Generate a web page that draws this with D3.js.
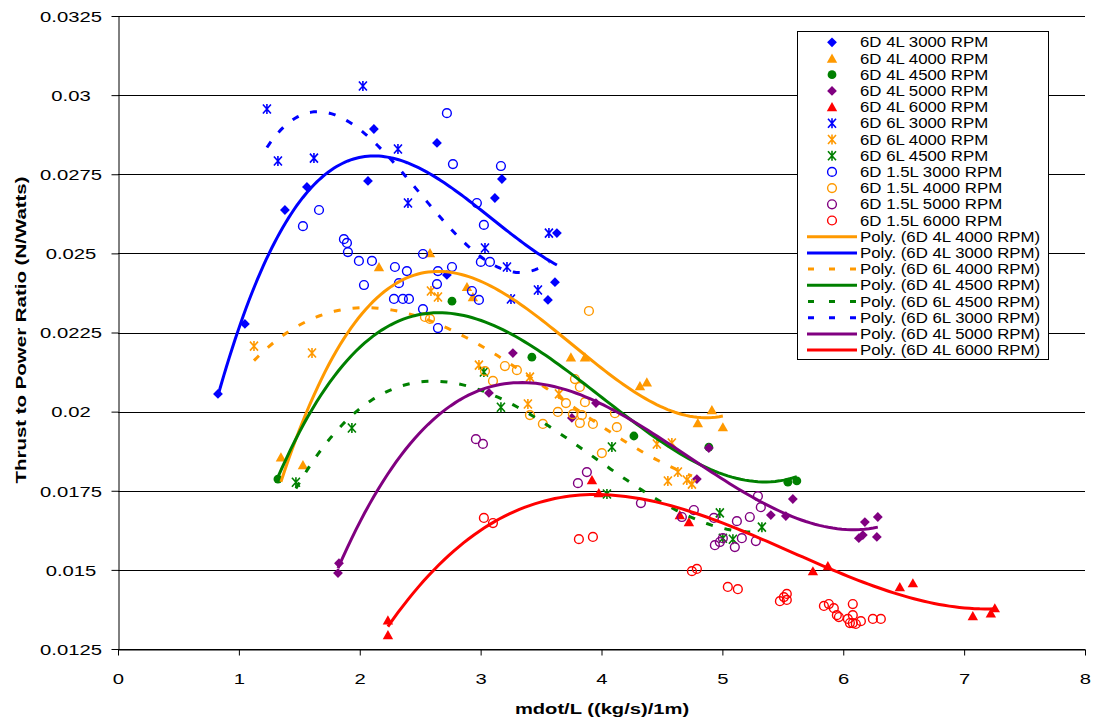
<!DOCTYPE html>
<html><head><meta charset="utf-8">
<script src="https://cdn.jsdelivr.net/npm/d3@7"></script>
<style>
body{margin:0;background:#fff;}
text{font-family:"Liberation Sans",Arial,sans-serif;fill:#000;}
</style>
</head><body>
<svg id="chart" width="1093" height="723"></svg>
<script>
// ---------------- DATA ----------------
const xTicks = [0,1,2,3,4,5,6,7,8];
const xTickLabels = ["0","1","2","3","4","5","6","7","8"];
const yTicks = [0.0125,0.015,0.0175,0.02,0.0225,0.025,0.0275,0.03,0.0325];
const yTickLabels = ["0.0125","0.015","0.0175","0.02","0.0225","0.025","0.0275","0.03","0.0325"];
const xTitle = "mdot/L ((kg/s)/1m)";
const yTitle = "Thrust to Power Ratio (N/Watts)";

const s4L3000 = [[0.827,0.02056],[1.050,0.02277],[1.381,0.02637],[1.563,0.0271],[2.068,0.02729],[2.117,0.02893],[2.639,0.02849],[2.721,0.02432],[3.118,0.02675],[3.176,0.02735],[3.557,0.02353],[3.615,0.02409],[3.631,0.02564]];
const s4L4000 = [[1.348,0.01856],[1.530,0.01831],[2.159,0.02457],[2.581,0.02501],[2.887,0.02394],[2.936,0.02362],[3.747,0.02172],[3.863,0.02172],[4.318,0.02081],[4.375,0.02093],[4.797,0.01964],[4.913,0.02005],[5.004,0.01951]];
const s4L4500 = [[1.323,0.01787],[2.763,0.02349],[3.424,0.02172],[4.268,0.01923],[4.888,0.01888],[5.542,0.01777],[5.616,0.01781]];
const s4L5000 = [[1.828,0.01521],[1.820,0.0149],[3.069,0.02059],[3.267,0.02185],[3.755,0.0198],[3.954,0.02027],[4.888,0.01885],[4.789,0.01787],[5.401,0.01673],[5.525,0.0167],[5.583,0.01724],[6.129,0.016],[6.162,0.0161],[6.179,0.01651],[6.278,0.01604],[6.286,0.01667]];
const s4L6000 = [[2.233,0.01341],[2.233,0.01294],[3.921,0.01784],[3.978,0.01743],[4.648,0.01673],[4.723,0.01651],[5.749,0.01496],[5.873,0.01512],[6.468,0.01446],[6.576,0.01458],[7.072,0.01354],[7.221,0.01363],[7.254,0.01379]];
const s6L3000 = [[1.232,0.02956],[1.323,0.02792],[1.621,0.02801],[2.026,0.03029],[2.316,0.0283],[2.399,0.02659],[3.036,0.02517],[3.218,0.02457],[3.251,0.02356],[3.474,0.02384],[3.565,0.02564]];
const s6L4000 = [[1.125,0.02207],[1.605,0.02185],[2.589,0.02381],[2.647,0.02362],[2.986,0.02147],[3.408,0.02109],[3.648,0.02056],[3.391,0.02024],[4.458,0.01898],[4.582,0.01901],[4.632,0.01809],[4.549,0.01781],[4.706,0.01784],[4.748,0.01771]];
const s6L4500 = [[1.472,0.01777],[1.935,0.01948],[3.027,0.02125],[3.168,0.02014],[4.086,0.01888],[4.045,0.0174],[4.979,0.0168],[5.327,0.01635],[5.004,0.016],[5.087,0.01597]];
const s15L3000 = [[1.663,0.02637],[1.530,0.02586],[1.869,0.02545],[1.894,0.02533],[1.902,0.02504],[1.993,0.02476],[2.101,0.02476],[2.035,0.024],[2.291,0.02457],[2.390,0.02444],[2.324,0.02406],[2.283,0.02356],[2.357,0.02356],[2.407,0.02356],[2.523,0.02498],[2.523,0.02324],[2.647,0.02444],[2.639,0.02403],[2.647,0.02264],[2.763,0.02457],[2.721,0.02943],[2.771,0.02782],[3.168,0.02776],[2.969,0.02659],[3.027,0.0259],[3.002,0.02473],[3.077,0.02473],[2.928,0.02381],[2.986,0.02353]];
const s15L4000 = [[2.539,0.02299],[2.581,0.02293],[3.896,0.02318],[3.036,0.02128],[3.102,0.02097],[3.201,0.02144],[3.300,0.02131],[3.408,0.01989],[3.515,0.01961],[3.639,0.01999],[3.706,0.02027],[3.780,0.02103],[3.821,0.02078],[3.863,0.0203],[3.763,0.01992],[3.838,0.01989],[3.821,0.01964],[3.929,0.01961],[4.111,0.01995],[4.127,0.01951],[4.003,0.01869]];
const s15L5000 = [[2.961,0.01913],[3.019,0.01898],[3.879,0.01809],[3.805,0.01774],[4.326,0.01711],[4.665,0.01667],[4.764,0.01689],[4.930,0.01664],[4.938,0.01578],[4.979,0.01588],[5.004,0.016],[5.103,0.01572],[5.120,0.01654],[5.161,0.016],[5.227,0.01667],[5.277,0.01591],[5.294,0.01733],[5.318,0.01698]];
const s15L6000 = [[3.027,0.01664],[3.102,0.01648],[3.813,0.01597],[3.929,0.01604],[4.748,0.01496],[4.789,0.01503],[5.045,0.01446],[5.128,0.01439],[5.476,0.01401],[5.509,0.01414],[5.533,0.01424],[5.533,0.01405],[5.840,0.01386],[5.881,0.01392],[5.922,0.01379],[5.947,0.01357],[5.964,0.01351],[6.038,0.01345],[6.055,0.01332],[6.079,0.01392],[6.079,0.01357],[6.079,0.01332],[6.104,0.01329],[6.146,0.01338],[6.245,0.01345],[6.311,0.01345]];

const seriesNames = ["6D 4L 3000 RPM","6D 4L 4000 RPM","6D 4L 4500 RPM","6D 4L 5000 RPM","6D 4L 6000 RPM","6D 6L 3000 RPM","6D 6L 4000 RPM","6D 6L 4500 RPM","6D 1.5L 3000 RPM","6D 1.5L 4000 RPM","6D 1.5L 5000 RPM","6D 1.5L 6000 RPM"];
const seriesData = [s4L3000,s4L4000,s4L4500,s4L5000,s4L6000,s6L3000,s6L4000,s6L4500,s15L3000,s15L4000,s15L5000,s15L6000];
// trendlines (legend order): index into series
const trendSeries = [1,0,6,2,7,5,3,4];
const trendOrder = 3;

// ---------------- STYLE ----------------
const BLUE="#0000FF", ORANGE="#FF9900", GREEN="#008000", PURPLE="#800080", RED="#FF0000";
const seriesStyle = [
  {c:BLUE,m:"diamond"},{c:ORANGE,m:"triangle"},{c:GREEN,m:"circle"},{c:PURPLE,m:"diamond"},{c:RED,m:"triangle"},
  {c:BLUE,m:"star"},{c:ORANGE,m:"star"},{c:GREEN,m:"star"},
  {c:BLUE,m:"ocircle"},{c:ORANGE,m:"ocircle"},{c:PURPLE,m:"ocircle"},{c:RED,m:"ocircle"}
];
const trendDashed = [false,false,true,false,true,true,false,false];

const svg = d3.select("#chart");
const L=118, R=1085, T=16, B=649;
const x = d3.scaleLinear().domain([0,8]).range([L,R]);
const y = d3.scaleLinear().domain([0.0125,0.0325]).range([B,T]);

// gridlines
svg.append("g").selectAll("line").data(yTicks).join("line")
  .attr("x1",L).attr("x2",R).attr("y1",d=>Math.round(y(d))+0.5).attr("y2",d=>Math.round(y(d))+0.5)
  .attr("stroke","#000").attr("stroke-width",1);

// axes
const yAxis = svg.append("g").attr("transform",`translate(${L+0.5},0)`)
  .call(d3.axisLeft(y).tickValues(yTicks).tickSize(7).tickSizeOuter(0).tickFormat((d,i)=>yTickLabels[i]));
yAxis.select(".domain").attr("stroke","#000");
yAxis.selectAll(".tick line").attr("stroke","#000");
yAxis.selectAll(".tick text").attr("x",null).attr("dy","0.35em").attr("text-anchor","middle")
  .attr("transform","translate(-47.5,0) scale(1.35,1)").style("font-size","15px").style("font-family","'Liberation Sans',Arial,sans-serif");

const xAxis = svg.append("g").attr("transform",`translate(0,${B+0.5})`)
  .call(d3.axisBottom(x).tickValues(xTicks).tickSize(6).tickSizeOuter(0).tickFormat((d,i)=>xTickLabels[i]));
xAxis.select(".domain").attr("stroke","#000");
xAxis.selectAll(".tick line").attr("stroke","#000");
xAxis.selectAll(".tick text").attr("y",null).attr("dy",null)
  .attr("transform","translate(0,684) scale(1.35,1)".replace("684","34")).style("font-size","15px").style("font-family","'Liberation Sans',Arial,sans-serif");

// titles
svg.append("text").attr("transform",`translate(602,714) scale(1.3,1)`).attr("text-anchor","middle")
  .style("font-size","15.5px").style("font-weight","bold").text(xTitle);
svg.append("text").attr("transform",`translate(26,330) rotate(-90) scale(1.32,1)`).attr("text-anchor","middle")
  .style("font-size","15.5px").style("font-weight","bold").text(yTitle);

// markers
function markerPath(m){
  if(m==="diamond") return "M0,-4.9L4.9,0L0,4.9L-4.9,0Z";
  if(m==="triangle") return "M0,-5L5.2,4.2L-5.2,4.2Z";
  if(m==="star") return "M-4,-4.5L4,4.5M-4,4.5L4,-4.5M0,-5L0,5";
  return null;
}
function drawMarker(g, m, c){
  if(m==="circle") g.append("circle").attr("r",4.4).attr("fill",c);
  else if(m==="ocircle") g.append("circle").attr("r",4.4).attr("fill","none").attr("stroke",c).attr("stroke-width",1.4);
  else if(m==="star") g.append("path").attr("d",markerPath(m)).attr("fill","none").attr("stroke",c).attr("stroke-width",1.6);
  else g.append("path").attr("d",markerPath(m)).attr("fill",c);
}
const plot = svg.append("g");
seriesData.forEach((data,i)=>{
  const st = seriesStyle[i];
  const gs = plot.append("g");
  data.forEach(p=>{
    const g = gs.append("g").attr("transform",`translate(${x(p[0])},${y(p[1])})`);
    drawMarker(g, st.m, st.c);
  });
});

// polynomial regression trendlines
function polyfit(pts, order){
  const n = order+1;
  const xm = d3.mean(pts,d=>d[0]);
  const A = Array.from({length:n},()=>new Array(n).fill(0));
  const b = new Array(n).fill(0);
  pts.forEach(([px,py])=>{
    const dx = px-xm;
    const pw = [1]; for(let k=1;k<2*n;k++) pw.push(pw[k-1]*dx);
    for(let i=0;i<n;i++){ b[i]+=py*pw[i]; for(let j=0;j<n;j++) A[i][j]+=pw[i+j]; }
  });
  for(let i=0;i<n;i++){
    let piv=i; for(let r=i+1;r<n;r++) if(Math.abs(A[r][i])>Math.abs(A[piv][i])) piv=r;
    [A[i],A[piv]]=[A[piv],A[i]]; [b[i],b[piv]]=[b[piv],b[i]];
    for(let r=i+1;r<n;r++){ const f=A[r][i]/A[i][i]; for(let c=i;c<n;c++) A[r][c]-=f*A[i][c]; b[r]-=f*b[i]; }
  }
  const coef = new Array(n).fill(0);
  for(let i=n-1;i>=0;i--){ let s=b[i]; for(let c=i+1;c<n;c++) s-=A[i][c]*coef[c]; coef[i]=s/A[i][i]; }
  return v=>{ const dx=v-xm; let s=0,p=1; for(let k=0;k<n;k++){ s+=coef[k]*p; p*=dx; } return s; };
}
const line = d3.line().x(d=>x(d[0])).y(d=>y(d[1])).curve(d3.curveLinear);
trendSeries.forEach((si,k)=>{
  const data = seriesData[si];
  const f = polyfit(data, trendOrder);
  const [x0,x1] = d3.extent(data,d=>d[0]);
  const xs = d3.range(0,121).map(t=>x0+(x1-x0)*t/120);
  plot.append("path").datum(xs.map(v=>[v,f(v)])).attr("d",line)
    .attr("fill","none").attr("stroke",seriesStyle[si].c).attr("stroke-width",3)
    .attr("stroke-dasharray",trendDashed[k]?"7,12":null);
});

// legend
const lg = svg.append("g");
lg.append("rect").attr("x",797.5).attr("y",31.5).attr("width",251).attr("height",328)
  .attr("fill","#fff").attr("stroke","#000").attr("stroke-width",1);
const rowY = i=>42.3+i*16.2;
seriesNames.forEach((nm,i)=>{
  const g = lg.append("g").attr("transform",`translate(832,${rowY(i)})`);
  drawMarker(g, seriesStyle[i].m, seriesStyle[i].c);
  lg.append("text").attr("transform",`translate(860,${rowY(i)+5}) scale(1.2,1)`).style("font-size","14px").text(nm);
});
trendSeries.forEach((si,k)=>{
  const yy = rowY(12+k);
  lg.append("line").attr("x1",807).attr("x2",857).attr("y1",yy).attr("y2",yy)
    .attr("stroke",seriesStyle[si].c).attr("stroke-width",3)
    .attr("stroke-dasharray",trendDashed[k]?"6,15":null).attr("stroke-dashoffset",trendDashed[k]?-1:null);
  lg.append("text").attr("transform",`translate(860,${yy+5}) scale(1.2,1)`).style("font-size","14px")
    .text("Poly. ("+seriesNames[si]+")");
});
</script>
</body></html>
